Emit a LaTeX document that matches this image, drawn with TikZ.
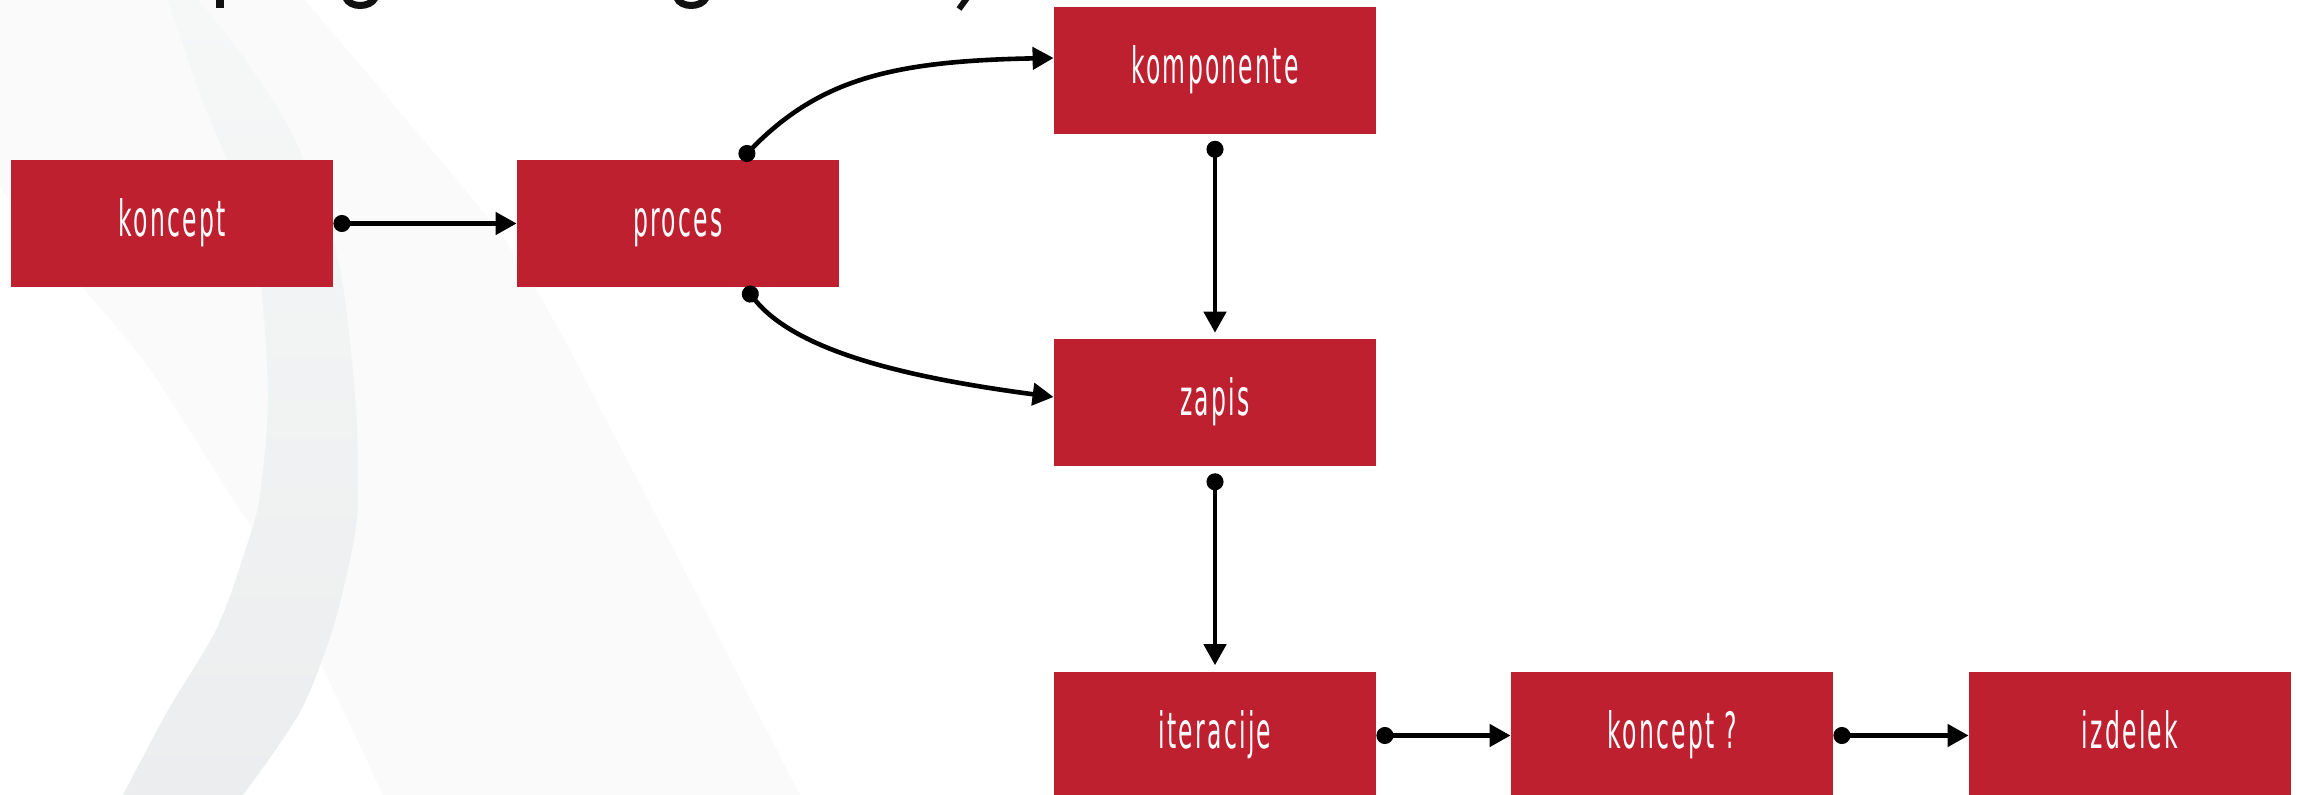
\documentclass[tikz,border=0pt]{standalone}
\usepackage{fontspec}
\usetikzlibrary{arrows.meta}
\newfontfamily\boxfont[FakeStretch=0.47,LetterSpace=4.5]{DejaVu Sans}
\definecolor{boxred}{HTML}{BE202F}
\definecolor{bandtop}{HTML}{F6F7F7}
\definecolor{bandbot}{HTML}{ECEDEE}
\definecolor{wedgegray}{HTML}{FAFAFA}
\definecolor{titleink}{HTML}{111111}
\begin{document}
\begin{tikzpicture}[x=0.5pt,y=-0.5pt,
  stepbox/.style={fill=boxred, text=white, minimum width=161pt, minimum height=63.5pt,
    inner sep=0pt, text height=18pt, text depth=5pt,
    font=\boxfont\fontsize{25pt}{30pt}\selectfont},
  link/.style={line width=2.3pt, {Circle[length=8.5pt]}-{Triangle[length=10.5pt,width=11pt]}},
  vlink/.style={link, shorten <=3.2pt, shorten >=3.2pt},
  frag/.style={titleink, line width=3.5pt}
]
\useasboundingbox (0,0) rectangle (2297,795);
\clip (0,0) rectangle (2297,795);
\fill[white] (0,0) rectangle (2297,795);
% background shapes
\fill[wedgegray] (0,0) -- (305,0) .. controls (330,30) and (450,170) .. (500,233)
  .. controls (545,300) and (570,350) .. (593,395) .. controls (680,560) and (740,680) .. (800,795)
  -- (383,795) .. controls (330,680) and (280,580) .. (250,525)
  .. controls (220,480) and (190,430) .. (167,395) .. controls (120,320) and (60,270) .. (0,187) -- cycle;
\shade[top color=bandtop, bottom color=bandbot] plot[smooth] coordinates {(168,0) (178,30) (202,100) (235,180) (258,260) (268,395) (260,495) (247,545) (217,628) (167,712) (123,795)}
  -- plot[smooth] coordinates {(243,795) (300,712) (333,628) (353,545) (358,495) (355,395) (338,260) (295,140) (245,60) (198,0)} -- cycle;
% title fragments
\fill[titleink] (216,0) rectangle (224,8);
\draw[frag] (346,-2) .. controls (350,8) and (370,8) .. (375,-2);
\draw[frag] (677,-2) .. controls (681,8) and (701,8) .. (706,-2);
\draw[frag, line width=3pt] (967,-2) -- (959,9);
% nodes
\node[stepbox] (koncept) at (172,223.5) {koncept};
\node[stepbox] (proces) at (678,223.5) {proces};
\node[stepbox] (komponente) at (1215,70.5) {komponente};
\node[stepbox] (zapis) at (1215,403) {zapis};
\node[stepbox] (iteracije) at (1215,735.5) {iteracije};
\node[stepbox] (kq) at (1672,735.5) {koncept ?};
\node[stepbox] (izdelek) at (2130,735.5) {izdelek};
% connectors
\draw[link] (koncept.east) -- (proces.west);
\draw[link] ([xshift=31.5pt]proces.north) .. controls +(79,-81) and +(-160,3) .. ([yshift=6.25pt]komponente.west);
\draw[link] ([xshift=33.5pt]proces.south) .. controls +(50,63) and +(-151,-20) .. ([yshift=3pt]zapis.west);
\draw[vlink] (komponente.south) -- (zapis.north);
\draw[vlink] (zapis.south) -- (iteracije.north);
\draw[link] (iteracije.east) -- (kq.west);
\draw[link] (kq.east) -- (izdelek.west);
\end{tikzpicture}
\end{document}
